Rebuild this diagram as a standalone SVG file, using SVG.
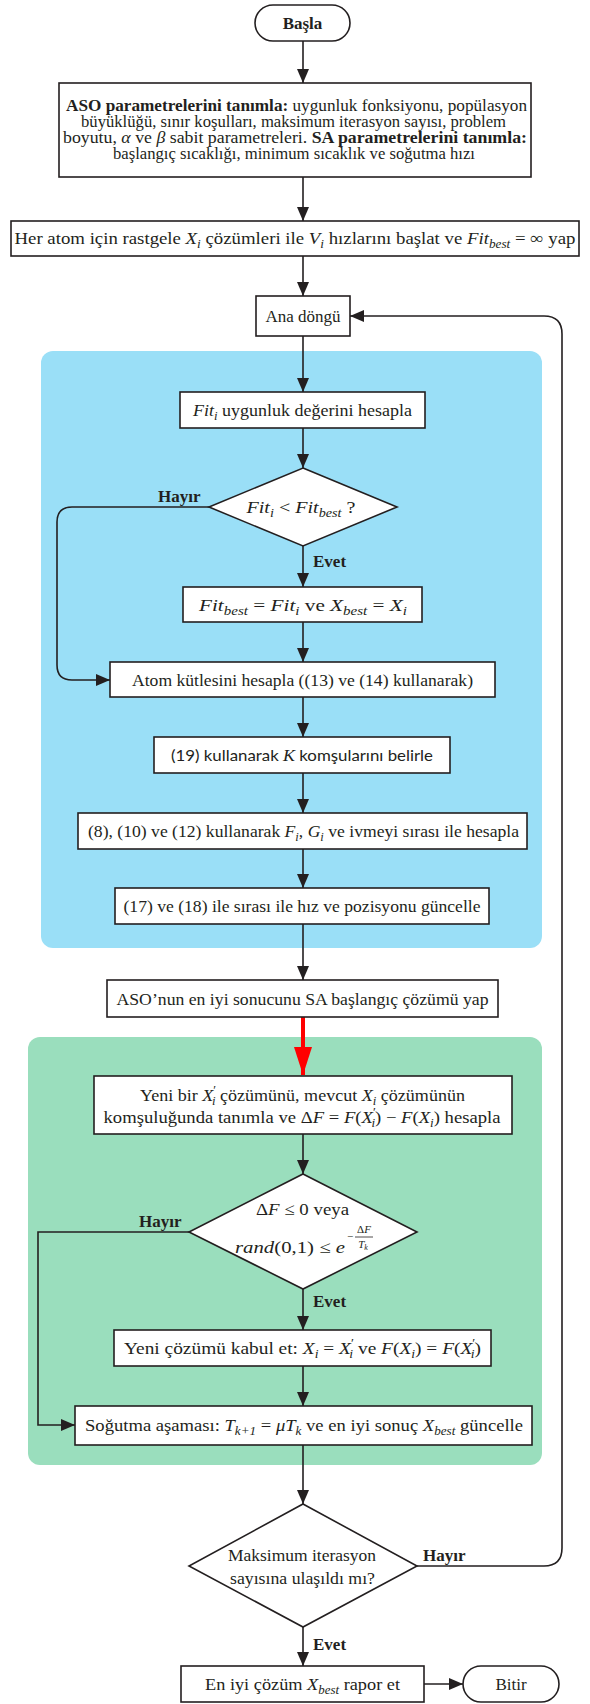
<svg xmlns="http://www.w3.org/2000/svg" width="590" height="1704" viewBox="0 0 590 1704">
<defs>
<style>
.box{fill:#fff;stroke:#231f20;stroke-width:1.6}
.ln{fill:none;stroke:#231f20;stroke-width:1.6}
.t{font-family:"Liberation Serif","Times New Roman",serif;font-size:17px;fill:#231f20;text-anchor:middle}
.sans{font-family:Lato,"Liberation Sans",sans-serif;font-size:16px}
.b{font-weight:bold}
.m{font-style:italic}
.s{font-size:12px}
.xs{font-size:11px}
.lbl{font-family:"Liberation Serif","Times New Roman",serif;font-size:17px;font-weight:bold;fill:#231f20}
</style>
<marker id="ah" viewBox="0 0 14 12" refX="14" refY="6" markerWidth="14" markerHeight="12" orient="auto" markerUnits="userSpaceOnUse"><path d="M0,0 L14,6 L0,12 Z" fill="#231f20"/></marker>
<marker id="ahr" viewBox="0 0 28 18" refX="28" refY="9" markerWidth="28" markerHeight="18" orient="auto" markerUnits="userSpaceOnUse"><path d="M0,0 L28,9 L0,18 Z" fill="#ff0000"/></marker>
</defs>
<rect width="590" height="1704" fill="#fff"/>

<g id="panels">
<rect x="41" y="351" width="501" height="597" rx="12" fill="#9adff7"/>
<rect x="28" y="1037" width="514" height="428" rx="12" fill="#9adebd"/>
</g>

<g id="connectors">
<path class="ln" d="M303,41 V83" marker-end="url(#ah)"/>
<path class="ln" d="M303,177 V221" marker-end="url(#ah)"/>
<path class="ln" d="M303,256 V296" marker-end="url(#ah)"/>
<path class="ln" d="M303,336 V392" marker-end="url(#ah)"/>
<path class="ln" d="M303,428 V468" marker-end="url(#ah)"/>
<path class="ln" d="M303,546 V587" marker-end="url(#ah)"/>
<path class="ln" d="M303,622 V662" marker-end="url(#ah)"/>
<path class="ln" d="M303,697 V737" marker-end="url(#ah)"/>
<path class="ln" d="M303,773 V813" marker-end="url(#ah)"/>
<path class="ln" d="M303,849 V888" marker-end="url(#ah)"/>
<path class="ln" d="M303,924 V980" marker-end="url(#ah)"/>
<path d="M303,1017 V1075" fill="none" stroke="#ff0000" stroke-width="4" marker-end="url(#ahr)"/>
<path class="ln" d="M303,1134 V1174" marker-end="url(#ah)"/>
<path class="ln" d="M303,1289 V1330" marker-end="url(#ah)"/>
<path class="ln" d="M303,1366 V1406" marker-end="url(#ah)"/>
<path class="ln" d="M303,1445 V1504" marker-end="url(#ah)"/>
<path class="ln" d="M303,1627 V1666" marker-end="url(#ah)"/>
<path class="ln" d="M424,1684 H463" marker-end="url(#ah)"/>
<path class="ln" d="M209,507 H72 Q57,507 57,522 V665 Q57,680 72,680 H110" marker-end="url(#ah)"/>
<path class="ln" d="M189,1232 H38 V1425 H75" marker-end="url(#ah)"/>
<path class="ln" d="M417,1566 H544 Q562,1566 562,1548 V334 Q562,316 544,316 H350" marker-end="url(#ah)"/>
<text class="lbl" x="158" y="502">Hayır</text>
<text class="lbl" x="313" y="567">Evet</text>
<text class="lbl" x="139" y="1227">Hayır</text>
<text class="lbl" x="313" y="1307">Evet</text>
<text class="lbl" x="423" y="1561">Hayır</text>
<text class="lbl" x="313" y="1650">Evet</text>
</g>

<g id="start">
<rect class="box" x="255" y="5" width="95" height="36" rx="18"/>
<text class="t b" x="302.5" y="29">Başla</text>
</g>

<g id="aso-params">
<rect class="box" x="59" y="83" width="472" height="94"/>
<text class="t" x="296.5" y="111" textLength="461" lengthAdjust="spacingAndGlyphs"><tspan class="b">ASO parametrelerini tanımla:</tspan> uygunluk fonksiyonu, popülasyon</text>
<text class="t" x="293.5" y="127" textLength="425" lengthAdjust="spacingAndGlyphs">büyüklüğü, sınır koşulları, maksimum iterasyon sayısı, problem</text>
<text class="t" x="295" y="143" textLength="464" lengthAdjust="spacingAndGlyphs">boyutu, <tspan class="m">α</tspan> ve <tspan class="m">β</tspan> sabit parametreleri. <tspan class="b">SA parametrelerini tanımla:</tspan></text>
<text class="t" x="294" y="159" textLength="362" lengthAdjust="spacingAndGlyphs">başlangıç sıcaklığı, minimum sıcaklık ve soğutma hızı</text>
</g>

<g id="init">
<rect class="box" x="11" y="221" width="568" height="35"/>
<text class="t" x="295" y="244" textLength="561" lengthAdjust="spacingAndGlyphs">Her atom için rastgele <tspan class="m">X</tspan><tspan class="m s" dy="4">i</tspan><tspan dy="-4"> çözümleri ile </tspan><tspan class="m">V</tspan><tspan class="m s" dy="4">i</tspan><tspan dy="-4"> hızlarını başlat ve </tspan><tspan class="m">Fit</tspan><tspan class="m s" dy="4">best</tspan><tspan dy="-4">  =  ∞  yap</tspan></text>
</g>

<g id="main-loop">
<rect class="box" x="256" y="296" width="94" height="40"/>
<text class="t" x="303" y="322">Ana döngü</text>
</g>

<g id="fitness">
<rect class="box" x="180" y="392" width="245" height="36"/>
<text class="t" x="302.5" y="416" textLength="219" lengthAdjust="spacingAndGlyphs"><tspan class="m">Fit</tspan><tspan class="m s" dy="4">i</tspan><tspan dy="-4"> uygunluk değerini hesapla</tspan></text>
</g>

<g id="decision1">
<polygon class="box" points="303,468 397,507 303,546 209,507"/>
<text class="t" x="301" y="513" textLength="109" lengthAdjust="spacingAndGlyphs"><tspan class="m">Fit</tspan><tspan class="m s" dy="4">i</tspan><tspan dy="-4"> &lt; </tspan><tspan class="m">Fit</tspan><tspan class="m s" dy="4">best</tspan><tspan dy="-4">  ?</tspan></text>
</g>

<g id="update-best">
<rect class="box" x="183" y="587" width="239" height="35"/>
<text class="t" x="303" y="610.5" textLength="208" lengthAdjust="spacingAndGlyphs"><tspan class="m">Fit</tspan><tspan class="m s" dy="4">best</tspan><tspan dy="-4"> = </tspan><tspan class="m">Fit</tspan><tspan class="m s" dy="4">i</tspan><tspan dy="-4"> ve  </tspan><tspan class="m">X</tspan><tspan class="m s" dy="4">best</tspan><tspan dy="-4"> = </tspan><tspan class="m">X</tspan><tspan class="m s" dy="4">i</tspan></text>
</g>

<g id="mass">
<rect class="box" x="110" y="662" width="385" height="35"/>
<text class="t" x="302.5" y="685.5" textLength="341" lengthAdjust="spacingAndGlyphs">Atom kütlesini hesapla ((13) ve (14) kullanarak)</text>
</g>

<g id="neighbors">
<rect class="box" x="154" y="737" width="296" height="36"/>
<text class="t sans" x="302" y="761" textLength="262" lengthAdjust="spacingAndGlyphs">(19) kullanarak <tspan class="m" font-family="Liberation Serif, serif" font-size="17">K</tspan> komşularını belirle</text>
</g>

<g id="forces">
<rect class="box" x="78" y="813" width="449" height="36"/>
<text class="t" x="303.5" y="837" textLength="431" lengthAdjust="spacingAndGlyphs">(8), (10) ve (12) kullanarak <tspan class="m">F</tspan><tspan class="m s" dy="4">i</tspan><tspan dy="-4">, </tspan><tspan class="m">G</tspan><tspan class="m s" dy="4">i</tspan><tspan dy="-4"> ve ivmeyi sırası ile hesapla</tspan></text>
</g>

<g id="velocity">
<rect class="box" x="115" y="888" width="374" height="36"/>
<text class="t" x="302" y="912" textLength="357" lengthAdjust="spacingAndGlyphs">(17) ve (18) ile sırası ile hız ve pozisyonu güncelle</text>
</g>

<g id="aso-to-sa">
<rect class="box" x="107" y="980" width="391" height="37"/>
<text class="t" x="302.5" y="1004.5" textLength="372" lengthAdjust="spacingAndGlyphs">ASO’nun en iyi sonucunu SA başlangıç çözümü yap</text>
</g>

<g id="new-solution">
<rect class="box" x="94" y="1076" width="418" height="58"/>
<text class="t" x="302.5" y="1101" textLength="325" lengthAdjust="spacingAndGlyphs">Yeni bir <tspan class="m">X</tspan><tspan class="s" dy="-7">′</tspan><tspan class="m s" dx="-4" dy="11">i</tspan><tspan dy="-4">  çözümünü, mevcut </tspan><tspan class="m">X</tspan><tspan class="m s" dy="4">i</tspan><tspan dy="-4"> çözümünün</tspan></text>
<text class="t" x="302" y="1123" textLength="397" lengthAdjust="spacingAndGlyphs">komşuluğunda tanımla ve Δ<tspan class="m">F</tspan> = <tspan class="m">F</tspan>(<tspan class="m">X</tspan><tspan class="s" dy="-7">′</tspan><tspan class="m s" dx="-4" dy="11">i</tspan><tspan dy="-4">) − </tspan><tspan class="m">F</tspan>(<tspan class="m">X</tspan><tspan class="m s" dy="4">i</tspan><tspan dy="-4">) hesapla</tspan></text>
</g>

<g id="decision2">
<polygon class="box" points="303,1174 417,1232 303,1289 189,1232"/>
<text class="t" x="302.5" y="1215" textLength="93" lengthAdjust="spacingAndGlyphs">Δ<tspan class="m">F</tspan> ≤ 0 veya</text>
<text class="t" x="345" y="1253" style="text-anchor:end" textLength="110" lengthAdjust="spacingAndGlyphs"><tspan class="m">rand</tspan>(0,1) ≤ <tspan class="m">e</tspan></text>
<text class="t xs" x="350" y="1240">−</text>
<text class="t xs" x="364" y="1233">Δ<tspan class="m">F</tspan></text>
<line x1="355" y1="1237" x2="373" y2="1237" stroke="#231f20" stroke-width="0.8"/>
<text class="t xs" x="363" y="1248"><tspan class="m">T</tspan><tspan class="m" font-size="8" dy="2">k</tspan></text>
</g>

<g id="accept">
<rect class="box" x="114" y="1330" width="377" height="36"/>
<text class="t" x="302.5" y="1354" textLength="357" lengthAdjust="spacingAndGlyphs">Yeni çözümü kabul et: <tspan class="m">X</tspan><tspan class="m s" dy="4">i</tspan><tspan dy="-4"> = </tspan><tspan class="m">X</tspan><tspan class="s" dy="-7">′</tspan><tspan class="m s" dx="-4" dy="11">i</tspan><tspan dy="-4">  ve </tspan><tspan class="m">F</tspan>(<tspan class="m">X</tspan><tspan class="m s" dy="4">i</tspan><tspan dy="-4">) = </tspan><tspan class="m">F</tspan>(<tspan class="m">X</tspan><tspan class="s" dy="-7">′</tspan><tspan class="m s" dx="-4" dy="11">i</tspan><tspan dy="-4">)</tspan></text>
</g>

<g id="cooling">
<rect class="box" x="75" y="1406" width="457" height="39"/>
<text class="t" x="304" y="1431" textLength="438" lengthAdjust="spacingAndGlyphs">Soğutma aşaması: <tspan class="m">T</tspan><tspan class="m s" dy="4">k+1</tspan><tspan dy="-4"> = </tspan><tspan class="m">μT</tspan><tspan class="m s" dy="4">k</tspan><tspan dy="-4"> ve en iyi sonuç </tspan><tspan class="m">X</tspan><tspan class="m s" dy="4">best</tspan><tspan dy="-4">  güncelle</tspan></text>
</g>

<g id="decision3">
<polygon class="box" points="303,1504 417,1566 303,1627 189,1566"/>
<text class="t" x="302" y="1561" textLength="148" lengthAdjust="spacingAndGlyphs">Maksimum iterasyon</text>
<text class="t" x="302.5" y="1584" textLength="145" lengthAdjust="spacingAndGlyphs">sayısına ulaşıldı mı?</text>
</g>

<g id="report">
<rect class="box" x="181" y="1666" width="243" height="36"/>
<text class="t" x="302.5" y="1690" textLength="195" lengthAdjust="spacingAndGlyphs">En iyi çözüm <tspan class="m">X</tspan><tspan class="m s" dy="4">best</tspan><tspan dy="-4">  rapor et</tspan></text>
</g>

<g id="end">
<rect class="box" x="463" y="1666" width="96" height="36" rx="18"/>
<text class="t" x="511" y="1690">Bitir</text>
</g>
</svg>
